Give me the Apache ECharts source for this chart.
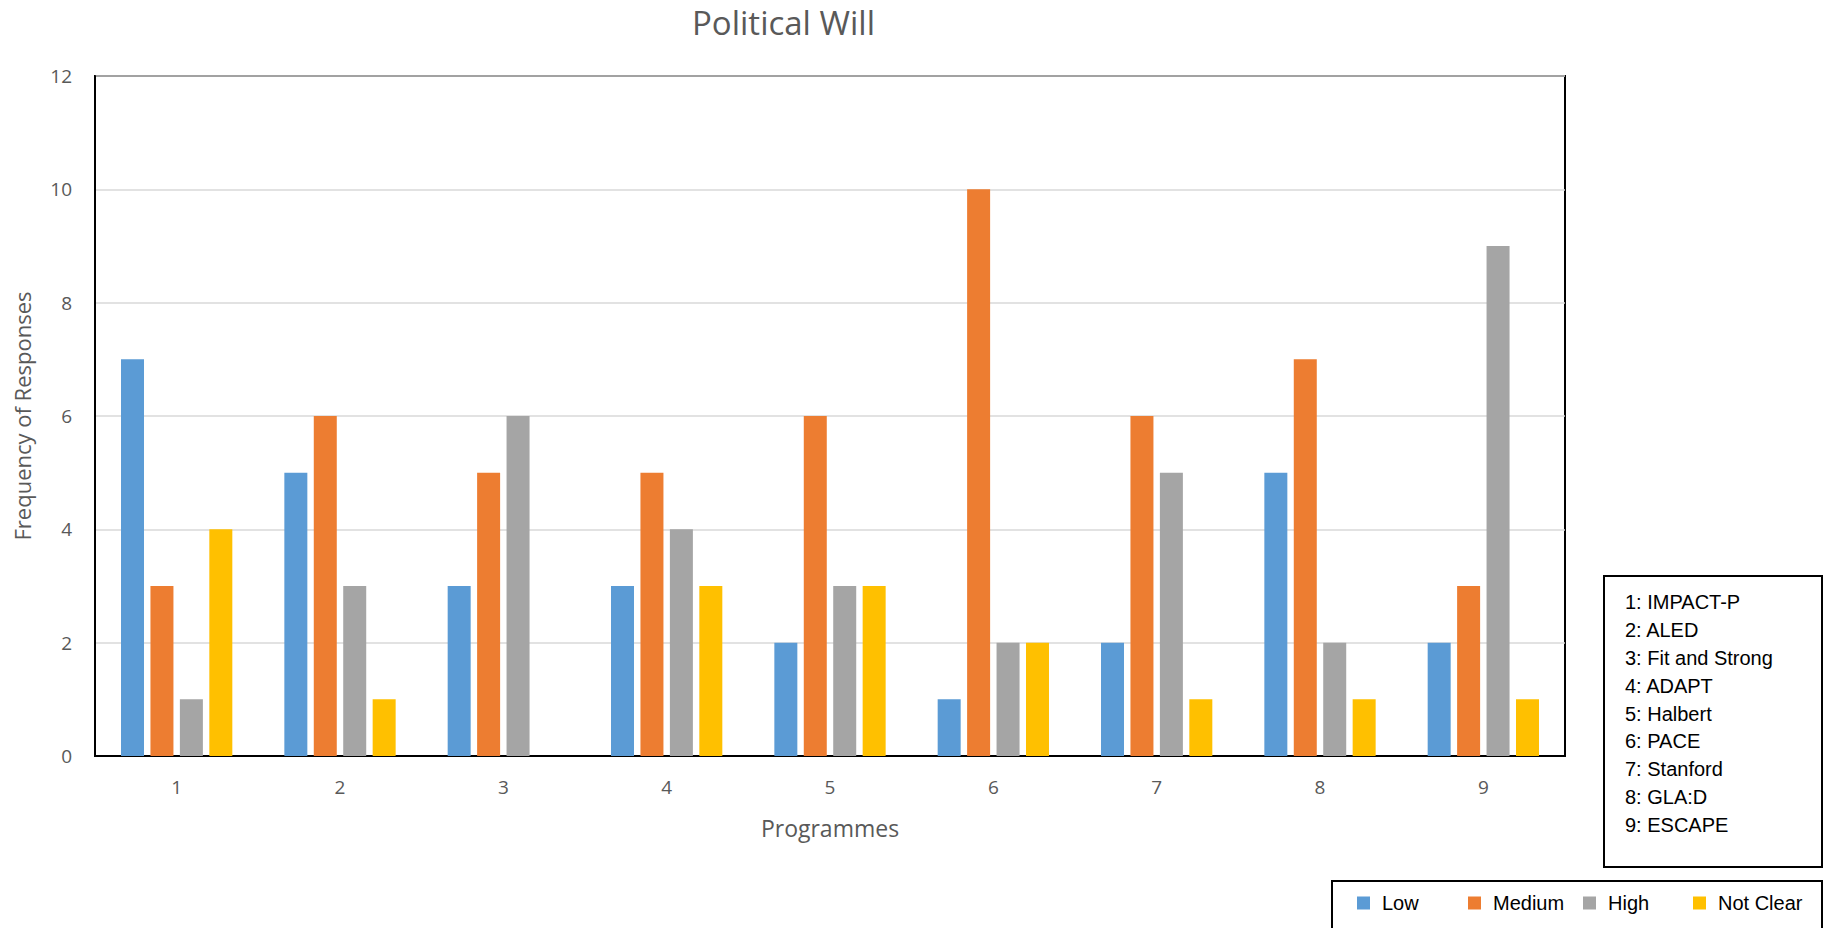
<!DOCTYPE html>
<html>
<head>
<meta charset="utf-8">
<title>Political Will</title>
<script src="https://cdn.jsdelivr.net/npm/echarts@6/dist/echarts.min.js"></script>
<style>
  html, body { margin: 0; padding: 0; background: #fff; }
  #chart { width: 1823px; height: 928px; }
</style>
</head>
<body>
<div id="chart"></div>
<script>
const categories = ['1', '2', '3', '4', '5', '6', '7', '8', '9'];
const lowValues = [7, 5, 3, 3, 2, 1, 2, 5, 2];
const mediumValues = [3, 6, 5, 5, 6, 10, 6, 7, 3];
const highValues = [1, 3, 6, 4, 3, 2, 5, 2, 9];
const notClearValues = [4, 1, 0, 3, 3, 2, 1, 1, 1];
const seriesNames = ['Low', 'Medium', 'High', 'Not Clear'];
const programmeNames = ['1: IMPACT-P', '2: ALED', '3: Fit and Strong', '4: ADAPT', '5: Halbert', '6: PACE', '7: Stanford', '8: GLA:D', '9: ESCAPE'];

const colors = ['#5b9bd5', '#ed7d31', '#a5a5a5', '#ffc000'];
const seriesData = [lowValues, mediumValues, highValues, notClearValues];
const legendLefts = [1357, 1468, 1583, 1693];

const chart = echarts.init(document.getElementById('chart'), null, { renderer: 'svg' });

const option = {
  animation: false,
  color: colors,
  title: {
    text: 'Political Will',
    left: 692,
    top: 6,
    padding: 0,
    textStyle: { fontFamily: 'Open Sans', fontSize: 33, fontWeight: 'normal', color: '#595959' }
  },
  legend: seriesNames.map((name, i) => ({
    data: [name],
    left: legendLefts[i],
    top: 893,
    padding: 0,
    icon: 'rect',
    itemWidth: 13,
    itemHeight: 13,
    textStyle: { fontFamily: 'Liberation Sans', fontSize: 20, color: '#000', padding: [0, 0, 0, 7] }
  })),
  grid: {
    left: 95, right: 258, top: 76, bottom: 172,
    show: true, borderColor: '#000', borderWidth: 2, backgroundColor: '#fff'
  },
  xAxis: {
    type: 'category',
    data: categories,
    name: 'Programmes',
    nameLocation: 'middle',
    nameGap: 60,
    nameTextStyle: { fontFamily: 'Open Sans', fontSize: 23, color: '#595959' },
    axisLine: { lineStyle: { color: '#000', width: 2 } },
    axisTick: { show: false },
    axisLabel: { margin: 21, fontFamily: 'Open Sans', fontSize: 19, color: '#595959' }
  },
  yAxis: {
    type: 'value',
    min: 0, max: 12, interval: 2,
    name: 'Frequency of Responses',
    nameLocation: 'middle',
    nameRotate: 90,
    nameGap: 62,
    nameTextStyle: { fontFamily: 'Open Sans', fontSize: 22, color: '#595959' },
    axisLine: { show: true, lineStyle: { color: '#000', width: 2 } },
    axisTick: { show: false },
    axisLabel: { margin: 23, fontFamily: 'Open Sans', fontSize: 19, color: '#595959' },
    splitLine: { lineStyle: { color: '#d9d9d9', width: 1.5 } }
  },
  series: seriesNames.map((name, i) => ({
    name: name,
    type: 'bar',
    data: seriesData[i],
    barWidth: 23,
    barGap: '28%',
    itemStyle: { color: colors[i] }
  })),
  graphic: [
    {
      type: 'rect',
      shape: { x: 1604, y: 576, width: 218, height: 291 },
      style: { fill: '#fff', stroke: '#000', lineWidth: 2 }
    },
    {
      type: 'text',
      left: 1625,
      top: 588,
      style: {
        text: programmeNames.join('\n'),
        fontFamily: 'Liberation Sans',
        fontSize: 20,
        lineHeight: 27.9,
        fill: '#000'
      }
    },
    {
      type: 'rect',
      z: -1,
      shape: { x: 1332, y: 881, width: 490, height: 60 },
      style: { fill: '#fff', stroke: '#000', lineWidth: 2 }
    }
  ]
};
chart.setOption(option);
</script>
</body>
</html>
